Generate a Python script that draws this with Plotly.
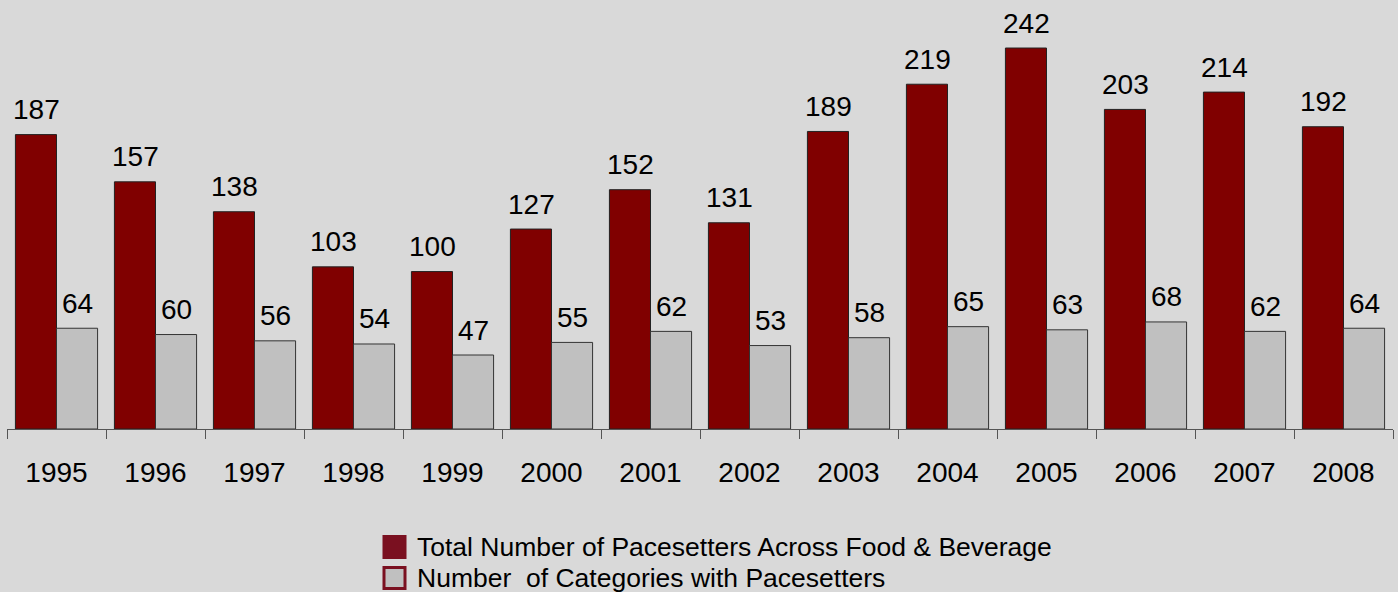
import plotly.graph_objects as go

years = ["1995", "1996", "1997", "1998", "1999", "2000", "2001",
         "2002", "2003", "2004", "2005", "2006", "2007", "2008"]
total_pacesetters = [187, 157, 138, 103, 100, 127, 152, 131, 189, 219, 242, 203, 214, 192]
categories_with = [64, 60, 56, 54, 47, 55, 62, 53, 58, 65, 63, 68, 62, 64]

name_total = "Total Number of Pacesetters Across Food & Beverage"
name_cat = "Number&nbsp;&nbsp;of Categories with Pacesetters"

MAROON = "#800000"
LEG_MAROON = "#7a1020"
GRAY = "#c0c0c0"
BG = "#d9d9d9"
FONT = "Liberation Sans, Arial, sans-serif"

W, H = 1398, 592
ML, MR, MT, MB = 7, 5, 0, 163
PW = W - ML - MR
PH = H - MT - MB
BAR_HALF = 20.5  # half of one bar's pixel width, for label offsets


def px_x(px):
    return (px - ML) / PW


def px_y(py):
    return (H - MB - py) / PH


fig = go.Figure()
fig.add_trace(go.Bar(
    x=years, y=total_pacesetters, name="Total Number of Pacesetters Across Food & Beverage",
    showlegend=False,
    marker=dict(color=MAROON, line=dict(color="#222222", width=1)),
))
fig.add_trace(go.Bar(
    x=years, y=categories_with, name="Number  of Categories with Pacesetters",
    showlegend=False,
    marker=dict(color=GRAY, line=dict(color="#333333", width=1)),
))

annotations = []
# value labels above bars (category axis positions are category indices)
for i, v in enumerate(total_pacesetters):
    annotations.append(dict(
        x=i, y=v, xref="x", yref="y", text=str(v), showarrow=False,
        xshift=-BAR_HALF, yshift=25, xanchor="center", yanchor="middle",
        font=dict(size=28, family=FONT, color="#000000"),
    ))
for i, v in enumerate(categories_with):
    annotations.append(dict(
        x=i, y=v, xref="x", yref="y", text=str(v), showarrow=False,
        xshift=BAR_HALF, yshift=25, xanchor="center", yanchor="middle",
        font=dict(size=28, family=FONT, color="#000000"),
    ))

# custom legend (symbols + labels)
legend_items = [(name_total, LEG_MAROON, LEG_MAROON, 547),
                (name_cat, GRAY, LEG_MAROON, 578)]
shapes = []
for label, fill, border, cy in legend_items:
    shapes.append(dict(
        type="rect", xref="paper", yref="paper",
        x0=px_x(384), x1=px_x(405), y0=px_y(cy - 10.5), y1=px_y(cy + 10.5),
        fillcolor=fill, line=dict(color=border, width=3), layer="above",
    ))
    annotations.append(dict(
        xref="paper", yref="paper", x=px_x(415), y=px_y(cy),
        xanchor="left", yanchor="middle", showarrow=False, text=label,
        font=dict(size=26.5, family=FONT, color="#000000"),
    ))

fig.update_layout(
    width=W, height=H,
    paper_bgcolor=BG, plot_bgcolor=BG,
    margin=dict(l=ML, r=MR, t=MT, b=MB, autoexpand=False),
    barmode="group", bargap=0.17, bargroupgap=0,
    font=dict(family=FONT, color="#000000"),
    showlegend=False,
    shapes=shapes, annotations=annotations,
    xaxis=dict(
        type="category", categoryorder="array", categoryarray=years,
        range=[-0.5, len(years) - 0.5],
        showgrid=False, zeroline=False,
        showline=True, linecolor="#555555", linewidth=1,
        ticks="outside", tickson="boundaries", ticklen=9,
        tickcolor="#555555", tickwidth=1, tickangle=0,
        ticklabelstandoff=18,
        tickfont=dict(size=28, family=FONT, color="#000000"),
        fixedrange=True,
    ),
    yaxis=dict(
        range=[0, 272.5], visible=False, showgrid=False, zeroline=False,
        fixedrange=True,
    ),
)

fig.write_html(
    "out.html",
    config={"displayModeBar": False},
    post_script="document.body.style.margin='0';document.body.style.padding='0';"
                "document.body.style.overflow='hidden';",
)
